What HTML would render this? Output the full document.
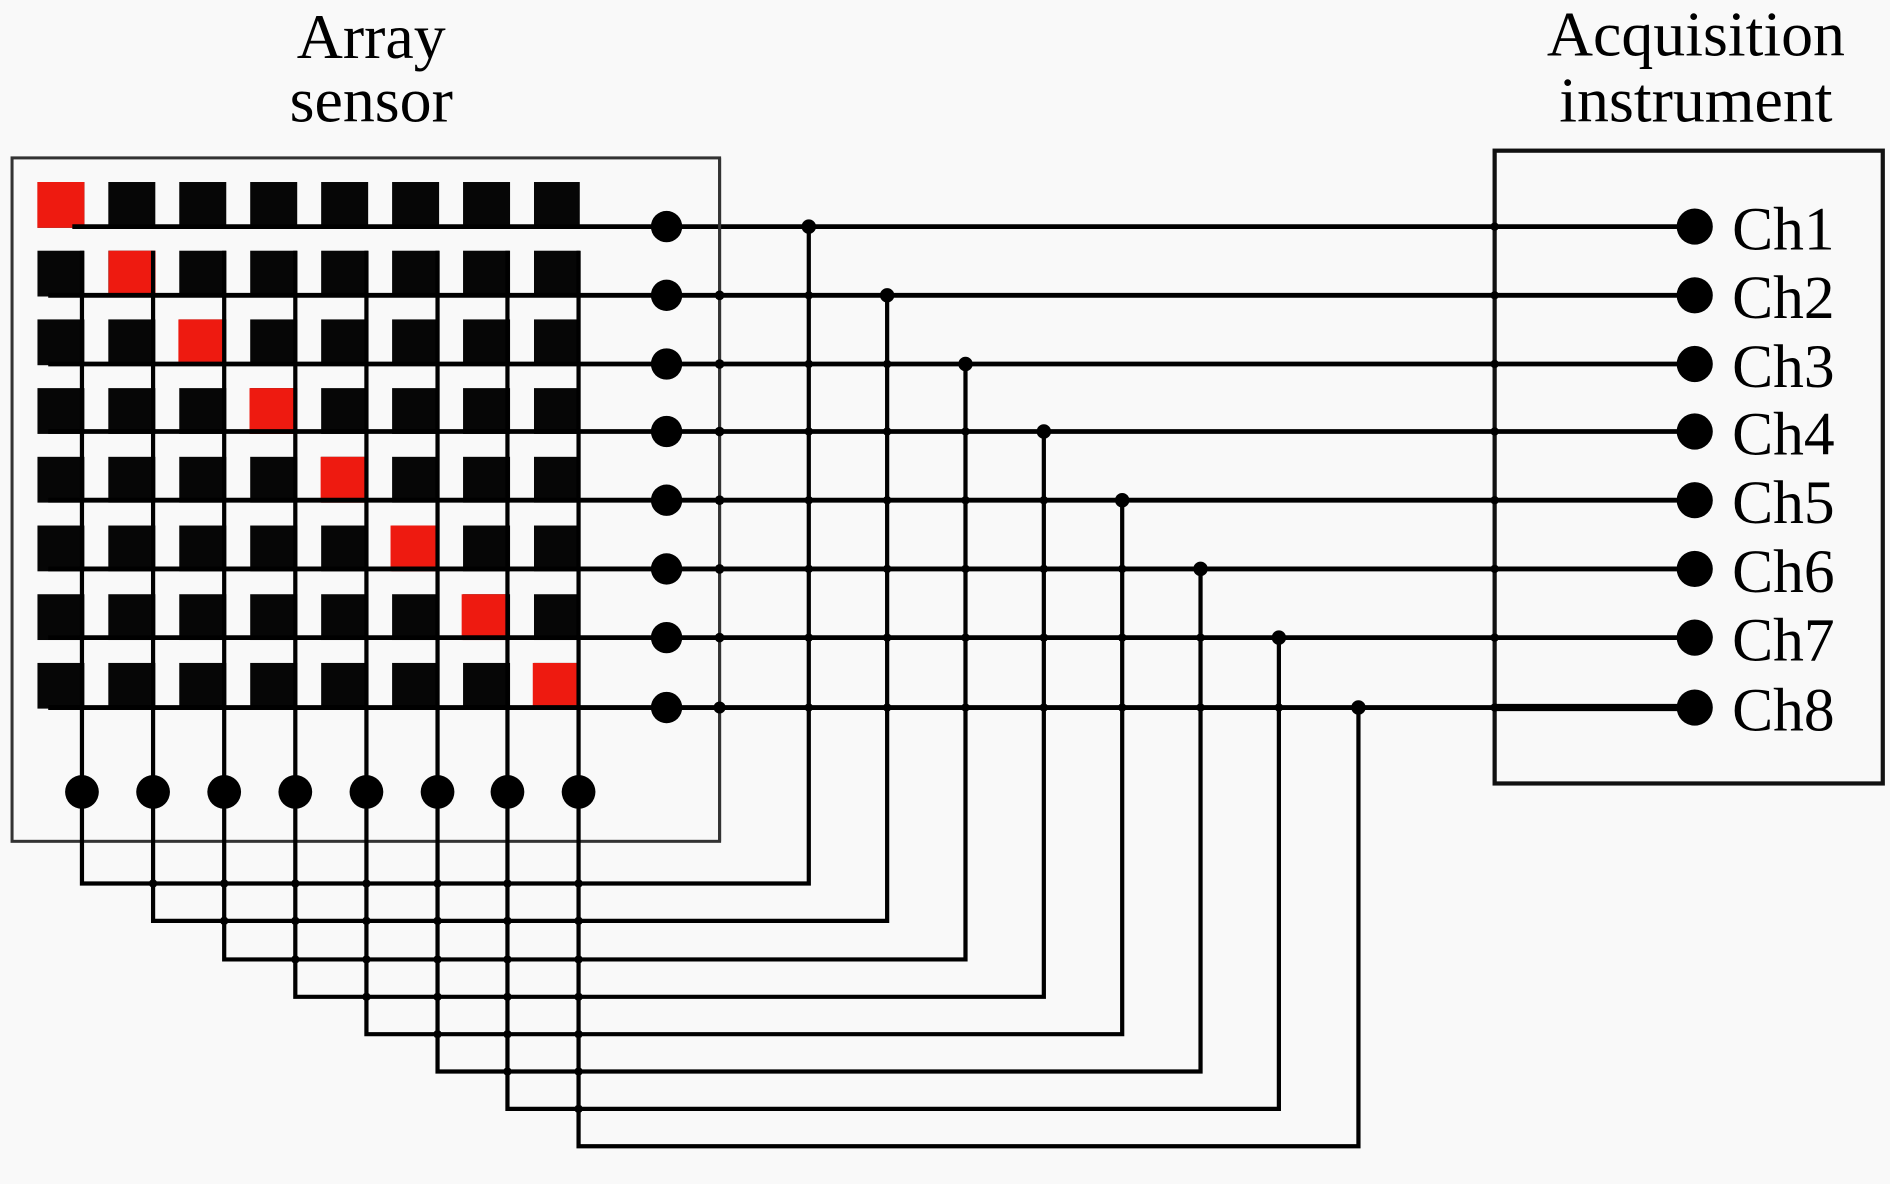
<!DOCTYPE html>
<html><head><meta charset="utf-8"><style>
html,body{margin:0;padding:0;background:#f9f9f9;}
svg{display:block;}
text{font-family:"Liberation Serif",serif;fill:#000;}
</style></head><body>
<svg width="1890" height="1184" viewBox="0 0 1568 982.3" preserveAspectRatio="none" xmlns="http://www.w3.org/2000/svg">
<defs>
<pattern id="g" patternUnits="userSpaceOnUse" x="31" y="151" width="58.86" height="57">
<rect x="0" y="0" width="39" height="38" fill="#060606"/>
</pattern>
</defs>
<rect width="1568" height="983" fill="#f9f9f9"/>
<text x="308" y="48" font-size="53" text-anchor="middle">Array</text>
<text x="308" y="101" font-size="53" text-anchor="middle">sensor</text>
<text x="1407" y="46" font-size="53" text-anchor="middle">Acquisition</text>
<text x="1407" y="101" font-size="53" text-anchor="middle">instrument</text>

<rect x="10" y="131" width="587" height="567" fill="none" stroke="#333" stroke-width="2.5"/>
<rect x="1240" y="125" width="322" height="525" fill="none" stroke="#111" stroke-width="3.5"/>

<rect x="31" y="151" width="450" height="437" fill="url(#g)"/>
<g fill="#ee1a10">
<rect x="31" y="151" width="39" height="38"/>
<rect x="90" y="208" width="39" height="38"/>
<rect x="148" y="265" width="39" height="38"/>
<rect x="207" y="322" width="39" height="38"/>
<rect x="266" y="379" width="39" height="38"/>
<rect x="324" y="436" width="39" height="38"/>
<rect x="383" y="493" width="39" height="38"/>
<rect x="442" y="550" width="39" height="38"/>
</g>

<g stroke="#000" stroke-width="4" fill="none">
<line x1="60" y1="188" x2="1406" y2="188"/>
<line x1="40" y1="245" x2="1406" y2="245"/>
<line x1="40" y1="302" x2="1406" y2="302"/>
<line x1="40" y1="358" x2="1406" y2="358"/>
<line x1="40" y1="415" x2="1406" y2="415"/>
<line x1="40" y1="472" x2="1406" y2="472"/>
<line x1="40" y1="529" x2="1406" y2="529"/>
<line x1="40" y1="587" x2="1406" y2="587"/>
<line x1="1240" y1="587" x2="1406" y2="587" stroke-width="6"/>
</g>
<g stroke="#000" stroke-width="3.5" fill="none">
<polyline points="68,208 68,733 671,733 671,188"/>
<polyline points="127,208 127,764 736,764 736,245"/>
<polyline points="186,208 186,796 801,796 801,302"/>
<polyline points="245,208 245,827 866,827 866,358"/>
<polyline points="304,208 304,858 931,858 931,415"/>
<polyline points="363,208 363,889 996,889 996,472"/>
<polyline points="421,208 421,920 1061,920 1061,529"/>
<polyline points="480,208 480,951 1127,951 1127,587"/>
<line x1="597" y1="131" x2="597" y2="698" stroke="#333" stroke-width="2.5"/>
</g>

<g fill="#000">
<circle cx="553" cy="188" r="13"/><circle cx="553" cy="245" r="13"/><circle cx="553" cy="302" r="13"/><circle cx="553" cy="358" r="13"/>
<circle cx="553" cy="415" r="13"/><circle cx="553" cy="472" r="13"/><circle cx="553" cy="529" r="13"/><circle cx="553" cy="587" r="13"/>
<circle cx="1406" cy="188" r="15"/><circle cx="1406" cy="245" r="15"/><circle cx="1406" cy="302" r="15"/><circle cx="1406" cy="358" r="15"/>
<circle cx="1406" cy="415" r="15"/><circle cx="1406" cy="472" r="15"/><circle cx="1406" cy="529" r="15"/><circle cx="1406" cy="587" r="15"/>
<circle cx="68" cy="657" r="14"/><circle cx="127" cy="657" r="14"/><circle cx="186" cy="657" r="14"/><circle cx="245" cy="657" r="14"/>
<circle cx="304" cy="657" r="14"/><circle cx="363" cy="657" r="14"/><circle cx="421" cy="657" r="14"/><circle cx="480" cy="657" r="14"/>
<circle cx="671" cy="188" r="6"/><circle cx="736" cy="245" r="6"/><circle cx="801" cy="302" r="6"/><circle cx="866" cy="358" r="6"/>
<circle cx="931" cy="415" r="6"/><circle cx="996" cy="472" r="6"/><circle cx="1061" cy="529" r="6"/><circle cx="1127" cy="587" r="6"/>
<g>
<circle cx="597" cy="245" r="4"/><circle cx="597" cy="302" r="4"/><circle cx="597" cy="358" r="4"/><circle cx="597" cy="415" r="4"/><circle cx="597" cy="472" r="4"/><circle cx="597" cy="529" r="4"/><circle cx="597" cy="587" r="5"/>
<circle cx="1240" cy="188" r="3.5"/><circle cx="1240" cy="245" r="3.5"/><circle cx="1240" cy="302" r="3.5"/><circle cx="1240" cy="358" r="3.5"/><circle cx="1240" cy="415" r="3.5"/><circle cx="1240" cy="472" r="3.5"/><circle cx="1240" cy="529" r="3.5"/><circle cx="1240" cy="587" r="3.5"/>
<circle cx="671" cy="245" r="3.5"/><circle cx="671" cy="302" r="3.5"/><circle cx="671" cy="358" r="3.5"/><circle cx="671" cy="415" r="3.5"/><circle cx="671" cy="472" r="3.5"/><circle cx="671" cy="529" r="3.5"/><circle cx="671" cy="587" r="3.5"/>
<circle cx="736" cy="302" r="3.5"/><circle cx="736" cy="358" r="3.5"/><circle cx="736" cy="415" r="3.5"/><circle cx="736" cy="472" r="3.5"/><circle cx="736" cy="529" r="3.5"/><circle cx="736" cy="587" r="3.5"/>
<circle cx="801" cy="358" r="3.5"/><circle cx="801" cy="415" r="3.5"/><circle cx="801" cy="472" r="3.5"/><circle cx="801" cy="529" r="3.5"/><circle cx="801" cy="587" r="3.5"/>
<circle cx="866" cy="415" r="3.5"/><circle cx="866" cy="472" r="3.5"/><circle cx="866" cy="529" r="3.5"/><circle cx="866" cy="587" r="3.5"/>
<circle cx="931" cy="472" r="3.5"/><circle cx="931" cy="529" r="3.5"/><circle cx="931" cy="587" r="3.5"/>
<circle cx="996" cy="529" r="3.5"/><circle cx="996" cy="587" r="3.5"/>
<circle cx="1061" cy="587" r="3.5"/>
<circle cx="127" cy="733" r="3.5"/><circle cx="186" cy="733" r="3.5"/><circle cx="245" cy="733" r="3.5"/><circle cx="304" cy="733" r="3.5"/><circle cx="363" cy="733" r="3.5"/><circle cx="421" cy="733" r="3.5"/><circle cx="480" cy="733" r="3.5"/>
<circle cx="186" cy="764" r="3.5"/><circle cx="245" cy="764" r="3.5"/><circle cx="304" cy="764" r="3.5"/><circle cx="363" cy="764" r="3.5"/><circle cx="421" cy="764" r="3.5"/><circle cx="480" cy="764" r="3.5"/>
<circle cx="245" cy="796" r="3.5"/><circle cx="304" cy="796" r="3.5"/><circle cx="363" cy="796" r="3.5"/><circle cx="421" cy="796" r="3.5"/><circle cx="480" cy="796" r="3.5"/>
<circle cx="304" cy="827" r="3.5"/><circle cx="363" cy="827" r="3.5"/><circle cx="421" cy="827" r="3.5"/><circle cx="480" cy="827" r="3.5"/>
<circle cx="363" cy="858" r="3.5"/><circle cx="421" cy="858" r="3.5"/><circle cx="480" cy="858" r="3.5"/>
<circle cx="421" cy="889" r="3.5"/><circle cx="480" cy="889" r="3.5"/>
<circle cx="480" cy="920" r="3.5"/>
</g>
</g>

<g font-size="51">
<text x="1437" y="207">Ch1</text>
<text x="1437" y="264">Ch2</text>
<text x="1437" y="321">Ch3</text>
<text x="1437" y="377">Ch4</text>
<text x="1437" y="434">Ch5</text>
<text x="1437" y="491">Ch6</text>
<text x="1437" y="548">Ch7</text>
<text x="1437" y="606">Ch8</text>
</g>
</svg>
</body></html>
